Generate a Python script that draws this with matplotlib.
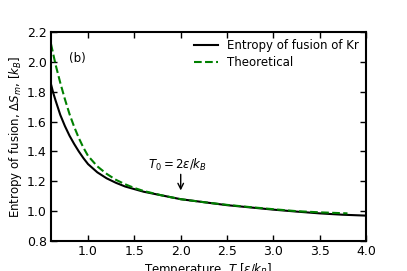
import matplotlib
matplotlib.use('Agg')
import matplotlib.pyplot as plt

# Entropy of fusion of Kr
T_kr = [0.6, 0.625, 0.65, 0.7, 0.75, 0.8, 0.85, 0.9, 0.95, 1.0, 1.1, 1.2, 1.3, 1.4,
        1.6, 1.8, 2.0, 2.25, 2.5, 2.75, 3.0, 3.25, 3.5, 3.75, 4.0]
S_kr = [1.85, 1.79, 1.74, 1.645, 1.57, 1.505, 1.45, 1.40, 1.355, 1.315, 1.26, 1.22,
        1.19, 1.165, 1.13, 1.105, 1.08, 1.06, 1.04, 1.025, 1.01, 0.997, 0.985, 0.976, 0.97]

# Theoretical curve
T_th = [0.6, 0.65, 0.7, 0.75, 0.8, 0.85, 0.9, 0.95, 1.0, 1.1, 1.2, 1.3, 1.4, 1.5,
        1.6, 1.8, 2.0, 2.25, 2.5, 2.75, 3.0, 3.25, 3.5, 3.8]
S_th = [2.12, 1.98, 1.86, 1.75, 1.65, 1.565, 1.49, 1.425, 1.37, 1.30, 1.25, 1.21,
        1.18, 1.155, 1.135, 1.105, 1.08, 1.06, 1.042, 1.027, 1.013, 1.0, 0.992, 0.985]

x_ticks = [1.0, 1.5, 2.0, 2.5, 3.0, 3.5, 4.0]
y_ticks = [0.8, 1.0, 1.2, 1.4, 1.6, 1.8, 2.0, 2.2]

fig = plt.figure(figsize=(4.07, 2.71), dpi=100)
ax = fig.add_axes([0.1253, 0.1107, 0.774, 0.7713])

ax.plot(T_kr, S_kr, 'k-', lw=1.5, label='Entropy of fusion of Kr')
ax.plot(T_th, S_th, '--', color='green', lw=1.5, label='Theoretical')

ax.set_xlim(0.6, 4.0)
ax.set_ylim(0.8, 2.2)
ax.set_xticks(x_ticks)
ax.set_yticks(y_ticks)
ax.xaxis.set_major_formatter(matplotlib.ticker.FormatStrFormatter('%.1f'))
ax.yaxis.set_major_formatter(matplotlib.ticker.FormatStrFormatter('%.1f'))
ax.tick_params(direction='in', top=True, right=True, length=4, width=1,
               labelsize=9, pad=3)
for s in ax.spines.values():
    s.set_linewidth(1.5)

ax.set_xlabel(r'Temperature, $T$ [$\varepsilon/k_B$]', fontsize=8.5, labelpad=2)
ax.set_ylabel(r'Entropy of fusion, $\Delta S_m$, [$k_B$]', fontsize=8.5, labelpad=2)

ax.text(0.88, 2.02, '(b)', fontsize=8.5, ha='center', va='center')
ax.text(1.96, 1.31, r'$T_0 = 2\varepsilon/k_B$', ha='center', va='center', fontsize=8.5)
ax.annotate('', xy=(2.0, 1.12), xytext=(2.0, 1.265),
            arrowprops=dict(arrowstyle='->', color='k', lw=1))

ax.legend(loc='upper right', frameon=False, fontsize=8.5, handlelength=2.0,
          borderaxespad=0.2, labelspacing=0.35)

fig.savefig('out.png', dpi=100)
plt.close(fig)
